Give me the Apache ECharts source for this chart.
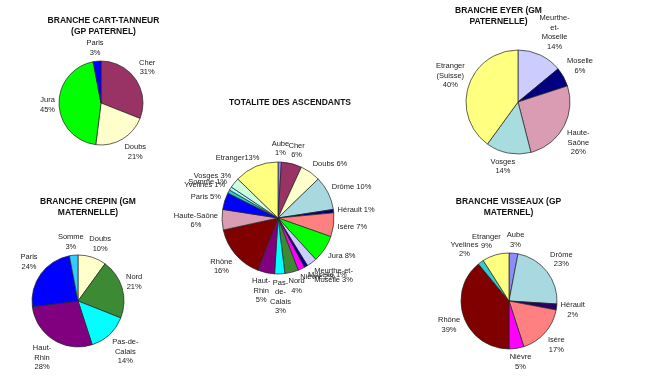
<!DOCTYPE html>
<html><head><meta charset="utf-8">
<script src="https://cdn.jsdelivr.net/npm/echarts@6/dist/echarts.min.js"></script>
<style>html,body{margin:0;padding:0;background:#fff}#c{width:650px;height:379px}</style>
</head><body><div id="c"></div>
<script>
// ---- data ----
var cartCategories = ['Cher', 'Doubs', 'Jura', 'Paris'];
var cartValues = [31, 21, 45, 3];

var crepinCategories = ['Doubs', 'Nord', 'Pas-de-\nCalais', 'Haut-\nRhin', 'Paris', 'Somme'];
var crepinValues = [10, 21, 14, 28, 24, 3];

var eyerCategories = ['Meurthe-\net-\nMoselle', 'Moselle', 'Haute-\nSaône', 'Vosges', 'Etranger\n(Suisse)'];
var eyerValues = [14, 6, 26, 14, 40];

var visseauxCategories = ['Aube', 'Drôme', 'Hérault', 'Isère', 'Nièvre', 'Rhône', 'Yvelines', 'Etranger'];
var visseauxValues = [3, 23, 2, 17, 5, 39, 2, 9];

var totalCategories = ['Aube', 'Cher', 'Doubs', 'Drôme', 'Hérault', 'Isère', 'Jura', 'Meurthe-et-Moselle', 'Moselle', 'Nièvre', 'Nord', 'Pas-de-Calais', 'Haut-Rhin', 'Rhône', 'Haute-Saône', 'Paris', 'Yvelines', 'Somme', 'Vosges', 'Etranger'];
var totalValues = [1, 6, 6, 10, 1, 7, 8, 3, 1, 2, 4, 3, 5, 16, 6, 5, 1, 1, 3, 13];
var totalLabelNames = ['Aube\n', 'Cher\n', 'Doubs ', 'Drôme ', 'Hérault ', 'Isère ', 'Jura ', 'Meurthe-et-\nMoselle ', 'Moselle ', 'Nièvre ', 'Nord\n', 'Pas-\nde-\nCalais\n', 'Haut-\nRhin\n', 'Rhône\n', 'Haute-Saône\n', 'Paris ', 'Yvelines ', 'Somme ', 'Vosges ', 'Etranger'];

var titles = ['BRANCHE CART-TANNEUR\n(GP PATERNEL)', 'TOTALITE DES ASCENDANTS', 'BRANCHE CREPIN (GM\nMATERNELLE)', 'BRANCHE EYER (GM\nPATERNELLE)', 'BRANCHE VISSEAUX (GP\nMATERNEL)'];

// ---- style ----
var colorMap = {
  'Cher': '#993366', 'Doubs': '#ffffcc', 'Jura': '#00ff00', 'Paris': '#0000ff',
  'Nord': '#3c8a34', 'Pas-de-\nCalais': '#00ffff', 'Pas-de-Calais': '#00ffff',
  'Haut-\nRhin': '#800080', 'Haut-Rhin': '#800080', 'Somme': '#33ccff',
  'Meurthe-\net-\nMoselle': '#ccccff', 'Meurthe-et-Moselle': '#ccccff', 'Moselle': '#000080',
  'Haute-\nSaône': '#d99cb3', 'Haute-Saône': '#d99cb3', 'Vosges': '#a8dde0',
  'Etranger\n(Suisse)': '#ffff80', 'Etranger': '#ffff80',
  'Aube': '#8c8cff', 'Drôme': '#a8d8e0', 'Hérault': '#2a0066', 'Isère': '#ff8080',
  'Nièvre': '#ff00ff', 'Rhône': '#800000', 'Yvelines': '#33cccc'
};
var totalColorOverride = { 'Vosges': '#ccffdd', 'Somme': '#99ffff', 'Hérault': '#000080' };

var FONT = 'Liberation Sans, Arial, sans-serif';

function mk(cats, vals, override) {
  return cats.map(function (c, i) {
    var col = (override && override[c]) || colorMap[c];
    return { name: c, value: vals[i], itemStyle: { color: col } };
  });
}

function clamp(v) { return Math.max(-1, Math.min(1, v)); }

function pie(cats, vals, center, r, override) {
  var cx = center[0], cy = center[1], gap = 4;
  return {
    type: 'pie',
    center: center,
    radius: r,
    startAngle: 90,
    clockwise: true,
    avoidLabelOverlap: false,
    silent: true,
    animation: false,
    data: mk(cats, vals, override),
    itemStyle: { borderColor: '#222', borderWidth: 0.7 },
    label: {
      show: true, position: 'outside', formatter: '{b}\n{c}%', align: 'center',
      fontFamily: FONT, fontSize: 7.5, color: '#222', lineHeight: 9.5
    },
    labelLine: { show: true, length: 1, length2: 0, lineStyle: { opacity: 0, width: 0 } },
    labelLayout: function (p) {
      var pts = p.labelLinePoints;
      if (!pts) return {};
      var dx = pts[0][0] - cx, dy = pts[0][1] - cy;
      var len = Math.sqrt(dx * dx + dy * dy) || 1;
      var ux = dx / len, uy = dy / len;
      var w = p.labelRect.width, h = p.labelRect.height;
      var ex = cx + ux * (r + gap), ey = cy + uy * (r + gap);
      return {
        x: ex + clamp(2 * ux) * w / 2,
        y: ey + clamp(2 * uy) * h / 2,
        align: 'center', verticalAlign: 'middle'
      };
    }
  };
}

var totalSeries = pie(totalCategories, totalValues, [278, 218], 56, totalColorOverride);
totalSeries.label.formatter = function (p) { return totalLabelNames[p.dataIndex] + p.value + '%'; };

var titlePos = [[103.5, 15], [290, 97], [88, 196], [498.5, 5], [508.5, 196]];

var option = {
  backgroundColor: '#ffffff',
  title: titles.map(function (t, i) {
    return {
      text: t, left: titlePos[i][0], top: titlePos[i][1], textAlign: 'center', padding: 0,
      textStyle: { fontFamily: FONT, fontSize: 8.5, fontWeight: 'bold', color: '#111', lineHeight: 11 }
    };
  }),
  series: [
    pie(cartCategories, cartValues, [101, 103], 42),
    totalSeries,
    pie(crepinCategories, crepinValues, [78, 301], 46),
    pie(eyerCategories, eyerValues, [518, 102], 52),
    pie(visseauxCategories, visseauxValues, [509, 301], 48)
  ]
};
var chart = echarts.init(document.getElementById('c'), null, { renderer: 'canvas' });
chart.setOption(option);
</script></body></html>
